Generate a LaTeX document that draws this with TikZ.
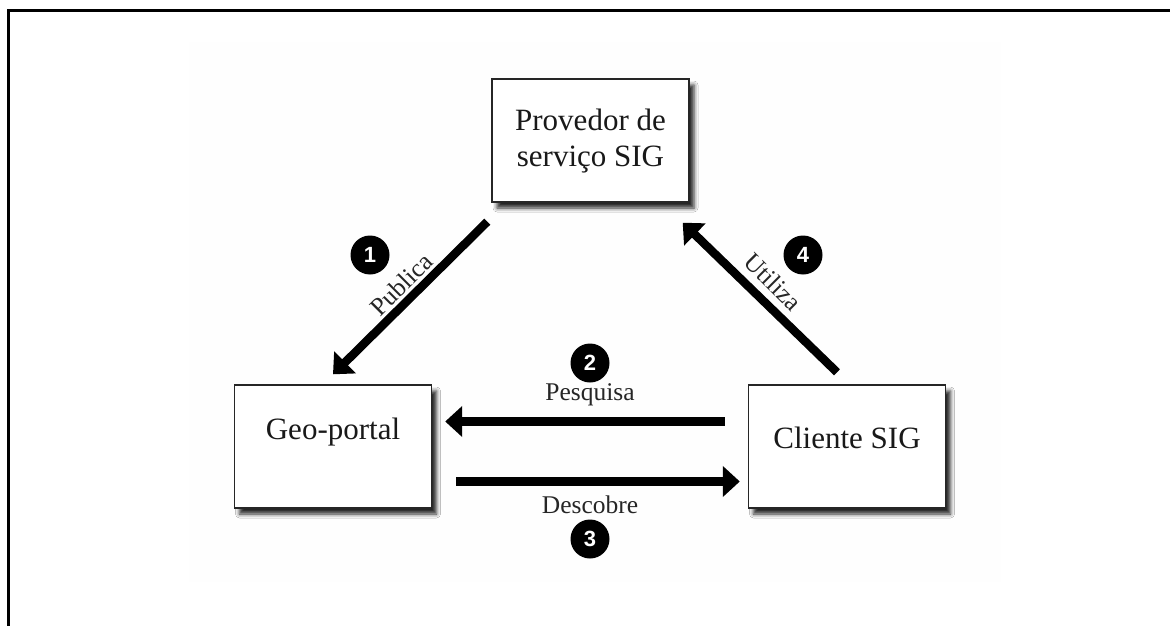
\documentclass[tikz,border=0pt]{standalone}
\usepackage{fontspec}
\setmainfont{Liberation Serif}
\newfontfamily\numfont{Liberation Sans}
\usetikzlibrary{arrows.meta,calc,shadows.blur}

\tikzset{
  box/.style={draw=black!85, line width=1.4pt, fill=white,
    minimum width=197pt, minimum height=123pt, inner sep=0pt,
    blur shadow={shadow xshift=5pt, shadow yshift=-6pt,
      shadow blur radius=4pt, shadow opacity=85}},
  boxtext/.style={font=\fontsize{31}{36}\selectfont, text=black!90, align=center, inner sep=0pt},
  flow/.style={line width=8.5pt, -{Triangle[length=17pt,width=30pt]}},
  steplabel/.style={font=\fontsize{25.5}{29}\selectfont, text=black!85, inner sep=0pt},
  stepno/.style={circle, fill=black, minimum size=39pt, inner sep=0pt,
    text=white, font=\numfont\bfseries\fontsize{22}{25}\selectfont}
}

\begin{document}
\begin{tikzpicture}[x=1pt, y=-1pt]
  \useasboundingbox (0,0) rectangle (1170,626);
  % faint panel behind the diagram
  \fill[white!99.6!black] (189,42) rectangle (1001,582);
  % open outer frame
  \draw[line width=3pt] (8,626) -- (8,11) -- (1170,11);

  % the three parties
  \node[box] (prov) at (590.5,140.5) {};
  \node[boxtext] (provtext) at (590.5,141) {Provedor de\\servi\c{c}o SIG};
  \node[box] (geo) at (333,446.5) {};
  \node[boxtext] (geotext) at (333,432) {Geo-portal};
  \node[box] (cli) at (847,446.5) {};
  \node[boxtext] (clitext) at (847,438) {Cliente SIG};

  % interactions
  \draw[flow] ($(prov.south west)+(-4,19)$) -- ($(geo.north)+(0,-10)$);
  \draw[flow] ($(cli.west)+(-23,-25)$) -- ($(geo.east)+(13,-25)$);
  \draw[flow] ($(geo.east)+(24,35)$) -- ($(cli.west)+(-8,35)$);
  \draw[flow] ($(cli.north)+(-10,-12)$) -- ($(prov.south east)+(-7,20)$);

  % labels and step numbers
  \node[steplabel, rotate=45] (lpub) at (401,284) {Publica};
  \node[steplabel, rotate=-45] (luti) at (773,282) {Utiliza};
  \node[steplabel] (lpes) at (590,395) {Pesquisa};
  \node[steplabel] (ldes) at (590,505) {Descobre};
  \node[stepno] (n1) at (370,255) {1};
  \node[stepno] (n2) at (590,363) {2};
  \node[stepno] (n3) at (590,539) {3};
  \node[stepno] (n4) at (803,255) {4};
\end{tikzpicture}
\end{document}
